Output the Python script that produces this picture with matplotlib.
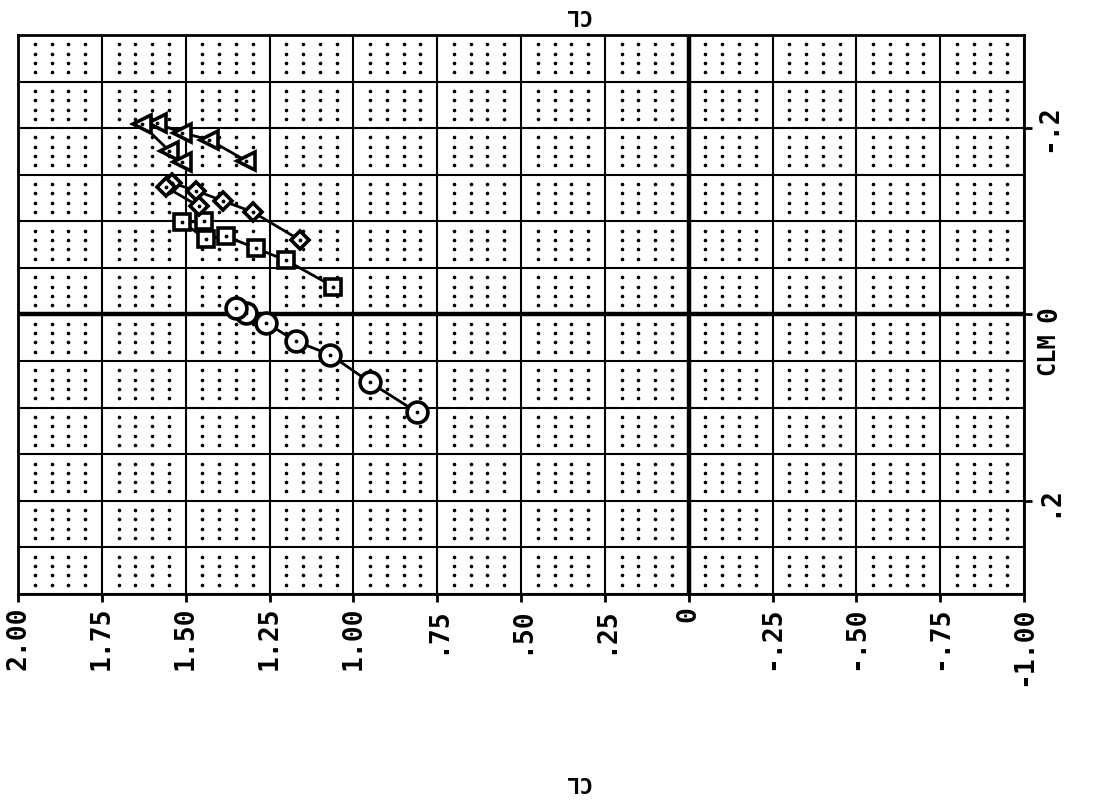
import numpy as np
import matplotlib.pyplot as plt

# CL (horizontal) and CLM (vertical)
cl_circ = [0.81, 0.95, 1.07, 1.17, 1.26, 1.32, 1.35]
cm_circ = [0.105, 0.073, 0.043, 0.029, 0.009, -0.002, -0.007]

cl_sq = [1.06, 1.20, 1.29, 1.38, 1.44, 1.51, 1.445]
cm_sq = [-0.030, -0.058, -0.071, -0.084, -0.081, -0.099, -0.100]

cl_dia = [1.16, 1.30, 1.39, 1.47, 1.54, 1.56, 1.46]
cm_dia = [-0.080, -0.110, -0.122, -0.133, -0.141, -0.137, -0.116]

cl_tri = [1.32, 1.43, 1.51, 1.585, 1.63, 1.55, 1.51]
cm_tri = [-0.165, -0.1875, -0.195, -0.205, -0.204, -0.176, -0.164]

xticks = [2.0, 1.75, 1.5, 1.25, 1.0, 0.75, 0.5, 0.25, 0.0, -0.25, -0.5, -0.75, -1.0]
xlabels = ['2.00', '1.75', '1.50', '1.25', '1.00', '.75', '.50', '.25', '0',
           '-.25', '-.50', '-.75', '-1.00']
yticks = [-0.2, 0.0, 0.2]
ylabels = ['-.2', '0', '.2']

fnt = 'DejaVu Sans Mono'

fig = plt.figure(figsize=(10.93, 8.08), dpi=100)
ax = fig.add_axes([0.0165, 0.2649, 0.9204, 0.6918])
ax.set_xlim(2.0, -1.0)
ax.set_ylim(0.3, -0.3)

# major grid
for x in np.arange(-1.0, 2.01, 0.25):
    ax.axvline(x, color='k', lw=3.2 if abs(x) < 1e-9 else 1.5, zorder=1)
for y in np.arange(-0.3, 0.301, 0.05):
    ax.axhline(y, color='k', lw=3.2 if abs(y) < 1e-9 else 1.5, zorder=1)

# dotted minor grid
mx = np.arange(-1.0, 2.0001, 0.05)
my = np.arange(-0.3, 0.3001, 0.01)
mx = mx[np.abs(mx / 0.25 - np.round(mx / 0.25)) > 1e-6]
my = my[np.abs(my / 0.05 - np.round(my / 0.05)) > 1e-6]
gx, gy = np.meshgrid(mx, my)
ax.plot(gx.ravel(), gy.ravel(), 'k.', ms=3.2, zorder=1)

kw = dict(color='k', lw=2.0, mfc='white', mec='k', mew=2.6, zorder=3)
ax.plot(cl_circ, cm_circ, marker='o', ms=15, **kw)
ax.plot(cl_sq, cm_sq, marker='s', ms=12, **kw)
ax.plot(cl_dia, cm_dia, marker='D', ms=9.5, **kw)
ax.plot(cl_tri, cm_tri, marker='<', ms=13, **kw)
for xs, ys in [(cl_circ, cm_circ), (cl_sq, cm_sq), (cl_dia, cm_dia), (cl_tri, cm_tri)]:
    ax.plot(xs, ys, 'k.', ms=3.5, zorder=4)

for s in ax.spines.values():
    s.set_linewidth(2.0)

ax.set_xticks(xticks)
ax.set_xticklabels(xlabels, rotation=90, fontsize=19, fontweight='bold', family=fnt,
                   va='top', ha='center')
ax.yaxis.tick_right()
ax.set_yticks(yticks)
ax.set_yticklabels(ylabels, rotation=90, fontsize=19, fontweight='bold', family=fnt,
                   va='center', ha='left')
ax.tick_params(direction='out', length=6, width=2.0, pad=3)

fig.text(1047 / 1093, 1 - 354 / 808, 'CLM', rotation=90, fontsize=17, fontweight='bold',
         family=fnt, ha='center', va='center')
fig.text(577 / 1093, 1 - 15 / 808, 'CL', rotation=180, fontsize=16, fontweight='bold',
         family=fnt, ha='center', va='center')
fig.text(577 / 1093, 1 - 782 / 808, 'CL', rotation=180, fontsize=16, fontweight='bold',
         family=fnt, ha='center', va='center')

plt.savefig('out.png', dpi=100)
